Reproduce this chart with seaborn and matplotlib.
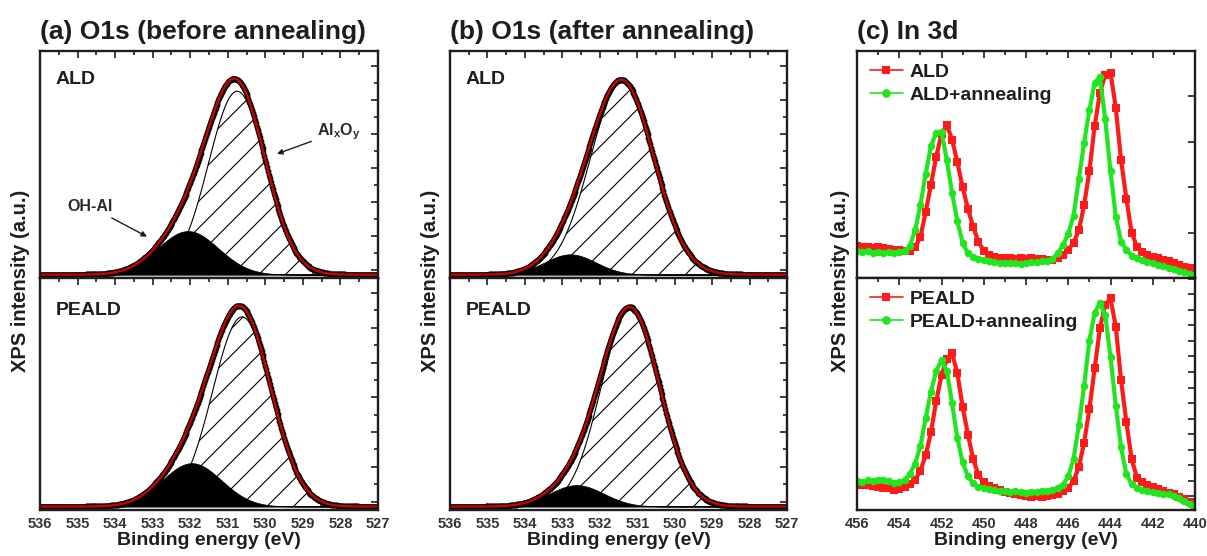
import numpy as np
import matplotlib
matplotlib.use("Agg")
import matplotlib.pyplot as plt
from matplotlib.ticker import MultipleLocator, FixedLocator
import seaborn as sns

# Rendering resolution; all sizes below are given for 100 dpi and rescaled by S
DPI = 80
S = 100 / DPI

sns.set_style("white")
plt.rcParams["font.family"] = ["Liberation Sans", "DejaVu Sans"]
plt.rcParams["hatch.linewidth"] = 0.8 * S
plt.rcParams["mathtext.default"] = "regular"

# ---------------- O 1s peak fits (Gaussian components) ----------------
# order of the four spectra: (a) ALD, (a) PEALD, (b) ALD, (b) PEALD
alo_center = [530.75, 530.62, 531.40, 531.18]
alo_height = [82.0, 83.0, 86.0, 86.0]
alo_fwhm = [1.80, 1.85, 2.00, 1.85]
oh_center = [532.06, 531.96, 532.79, 532.62]
oh_height = [19.5, 19.0, 9.1, 9.4]
oh_fwhm = [1.90, 1.86, 1.60, 1.70]

o1s_titles = ["(a) O1s (before annealing)", "(b) O1s (after annealing)"]
sample_names = ["ALD", "PEALD"]

# ---------------- In 3d spectra ----------------
in3d_energy = np.arange(456.0, 439.99, -0.25)
in3d_ald = [13.9, 13.6, 13.8, 13.3, 13.5, 13.0, 12.9, 12.5, 12.4, 11.9, 11.8,
            13.5, 18.0, 29.0, 41.0, 53.5, 63.5, 67.4, 61.0, 51.0, 40.0, 30.5, 22.5, 16.0, 12.0,
            10.3, 9.2, 8.9, 8.6, 8.9, 8.4, 8.7, 8.3, 8.6, 8.2, 8.5, 8.1, 8.0, 8.6,
            10.2, 12.5, 15.5, 21.0, 32.0, 47.0, 67.0, 81.5, 89.5, 90.5, 75.0, 52.0, 35.0, 20.0,
            13.8, 11.5, 10.2, 9.4, 8.6, 7.9, 7.3, 6.6, 5.9, 5.0, 4.2, 3.4]
in3d_ald_ann = [11.8, 11.3, 11.9, 11.2, 11.6, 11.0, 11.4, 11.1, 11.5, 12.0, 14.0,
                21.0, 32.0, 46.0, 58.0, 64.0, 64.5, 52.0, 37.5, 25.0, 15.5, 10.8, 9.3, 8.5, 7.8,
                7.3, 7.0, 6.7, 6.8, 6.4, 6.6, 6.3, 6.6, 6.9, 7.0, 7.3, 7.4, 8.3, 10.8,
                14.5, 19.5, 27.5, 43.5, 59.5, 74.0, 86.0, 88.5, 70.0, 47.0, 27.0, 16.0, 12.5, 9.8,
                8.8, 7.9, 7.2, 6.4, 5.8, 5.2, 4.5, 3.9, 3.2, 2.5, 1.9, 1.3]
in3d_peald = [10.9, 10.6, 10.8, 10.2, 10.0, 9.5, 9.3, 8.7, 9.0, 9.8, 11.0,
              13.0, 17.0, 23.5, 33.5, 47.0, 58.0, 65.0, 67.5, 59.0, 44.5, 32.5, 22.0, 15.0, 12.0,
              10.5, 9.4, 8.5, 7.8, 7.2, 6.8, 6.5, 6.0, 5.4, 6.1, 5.7, 5.9, 6.4, 7.1,
              8.0, 9.5, 12.5, 18.5, 29.0, 43.5, 61.0, 78.4, 88.5, 91.2, 79.0, 56.0, 38.0, 22.0,
              14.0, 12.0, 10.8, 10.0, 9.0, 8.3, 7.5, 6.8, 5.8, 4.6, 3.4, 2.2]
in3d_peald_ann = [12.4, 12.0, 12.8, 12.3, 13.0, 13.1, 12.5, 11.8, 11.9, 12.8, 15.5,
                  20.0, 27.5, 39.5, 51.0, 60.0, 64.5, 60.0, 46.0, 31.0, 20.5, 14.5, 11.5, 10.0, 9.3,
                  8.9, 8.5, 8.0, 8.3, 7.8, 8.1, 7.6, 7.3, 7.9, 7.6, 8.2, 8.0, 8.6, 9.4,
                  10.9, 14.5, 22.0, 36.5, 53.5, 73.0, 85.0, 89.2, 84.0, 66.0, 45.0, 27.0, 15.5, 11.0,
                  9.4, 8.7, 8.0, 7.7, 7.3, 7.0, 6.7, 6.2, 5.0, 3.8, 2.6, 1.6]
in3d_series = [[("ALD", in3d_ald), ("ALD+annealing", in3d_ald_ann)],
               [("PEALD", in3d_peald), ("PEALD+annealing", in3d_peald_ann)]]
in3d_colors = ["#ff1a1a", "#1fe61f"]
in3d_markers = ["s", "o"]

# ---------------- figure layout (pixel boxes) ----------------
W, H = 1207, 556
fig = plt.figure(figsize=(W / DPI, H / DPI), dpi=DPI)


def box(l, t, r, b):
    return [l / W, 1 - b / H, (r - l) / W, (b - t) / H]


cols = [(40, 378), (450, 787), (857, 1195)]
rows = [(51, 278), (278, 510)]
axes = [[fig.add_axes(box(c[0], r[0], c[1], r[1])) for r in rows] for c in cols]

INK = "#1e1e1e"
TICK_FS = 10.5 * S
LABEL_FS = 14 * S


def style(ax, xlim, major, minor, bottom_row):
    ax.set_xlim(*xlim)
    ax.xaxis.set_major_locator(MultipleLocator(major))
    ax.xaxis.set_minor_locator(MultipleLocator(minor))
    ax.tick_params(which="both", direction="in", top=True, right=True,
                   width=1.2 * S, colors=INK, labelsize=TICK_FS)
    ax.tick_params(which="major", length=5 * S)
    ax.tick_params(which="minor", length=3 * S)
    ax.tick_params(axis="y", labelleft=False)
    ax.tick_params(axis="x", labelbottom=bottom_row, pad=5 * S)
    for s in ax.spines.values():
        s.set_linewidth(1.7 * S)
        s.set_color(INK)
    for t in ax.get_xticklabels():
        t.set_fontweight("bold")
        t.set_color("#333333")
    ax.set_ylabel("")
    if bottom_row:
        ax.set_xlabel("Binding energy (eV)", fontsize=LABEL_FS,
                      fontweight="bold", color=INK, labelpad=1 * S)
    else:
        ax.set_xlabel("")


# ---------------- O 1s panels ----------------
x_fit = np.linspace(536.0, 527.0, 361)


def gauss(x, c, h, w):
    return h * np.exp(-4.0 * np.log(2.0) * ((x - c) / w) ** 2)


for p in range(2):
    for r in range(2):
        k = 2 * p + r
        ax = axes[p][r]
        alo = gauss(x_fit, alo_center[k], alo_height[k], alo_fwhm[k])
        oh = gauss(x_fit, oh_center[k], oh_height[k], oh_fwhm[k])
        env = alo + oh
        ax.fill_between(x_fit, 0, alo, facecolor="none", edgecolor="black",
                        hatch="/", linewidth=0.8 * S)
        ax.fill_between(x_fit, 0, oh, facecolor="black", edgecolor="black",
                        linewidth=0.5 * S)
        sns.lineplot(x=x_fit, y=env, ax=ax, color="black", marker="o",
                     markersize=4.2 * S, markeredgewidth=0, linewidth=3.2 * S)
        sns.lineplot(x=x_fit, y=env, ax=ax, color="#d00000", linewidth=1.7 * S)
        ax.set_ylim(-1.5, 100)
        ax.yaxis.set_major_locator(FixedLocator(np.arange(2.2, 100, 15.2)))
        ax.yaxis.set_minor_locator(FixedLocator(np.arange(9.8, 100, 15.2)))
        style(ax, (536, 527), 1, 0.5, r == 1)
        ax.text(0.047, 0.875 if r == 0 else 0.862, sample_names[r],
                transform=ax.transAxes, fontsize=14 * S, fontweight="bold",
                color=INK, ha="left", va="center")
    axes[p][0].set_title(o1s_titles[p], loc="left", fontsize=19 * S,
                         fontweight="bold", color=INK, pad=9 * S)

# component labels in panel (a)
axa = axes[0][0]
arrow = dict(arrowstyle="-|>", color=INK, lw=1.0 * S, mutation_scale=8 * S,
             shrinkA=2 * S, shrinkB=0)
axa.annotate("OH-Al", xy=(533.15, 17.0), xytext=(534.67, 30.5),
             fontsize=11.5 * S, fontweight="bold", color="#2a2a2a",
             ha="center", va="center", arrowprops=arrow)
axa.annotate("Al$_x$O$_y$", xy=(529.69, 54.0), xytext=(528.05, 64.0),
             fontsize=11.5 * S, fontweight="bold", color="#2a2a2a",
             ha="center", va="center", arrowprops=arrow)

# ---------------- In 3d panel ----------------
for r in range(2):
    ax = axes[2][r]
    for (name, vals), col, mk in zip(in3d_series[r], in3d_colors, in3d_markers):
        sns.lineplot(x=in3d_energy, y=vals, ax=ax, color=col, marker=mk,
                     markersize=5.4 * S, markeredgewidth=0, linewidth=3.0 * S,
                     label=name)
    ax.set_ylim(0, 100)
    style(ax, (456, 440), 2, 1, r == 1)
    leg = ax.legend(loc="upper left", bbox_to_anchor=(0.0, 1.0), frameon=False,
                    fontsize=14 * S, handlelength=1.7, handletextpad=0.35,
                    labelspacing=0.25, borderaxespad=0.25, markerscale=1.15)
    for line in leg.get_lines():
        line.set_linewidth(1.2 * S)
    for t in leg.get_texts():
        t.set_fontweight("bold")
        t.set_color(INK)
axes[2][0].yaxis.set_major_locator(FixedLocator([20, 40, 60, 80]))
axes[2][0].yaxis.set_minor_locator(FixedLocator([]))
axes[2][1].yaxis.set_major_locator(FixedLocator(np.arange(5.9, 100, 6.7)))
axes[2][1].yaxis.set_minor_locator(FixedLocator([]))
axes[2][0].set_title("(c) In 3d", loc="left", fontsize=19 * S, fontweight="bold",
                     color=INK, pad=9 * S)

# shared y label for each stacked pair
for xc in (21, 430, 840):
    fig.text(xc / W, 1 - 281 / H, "XPS intensity (a.u.)", rotation=90,
             ha="center", va="center", fontsize=14.5 * S, fontweight="bold",
             color=INK)

fig.savefig("out.png", dpi=DPI)
